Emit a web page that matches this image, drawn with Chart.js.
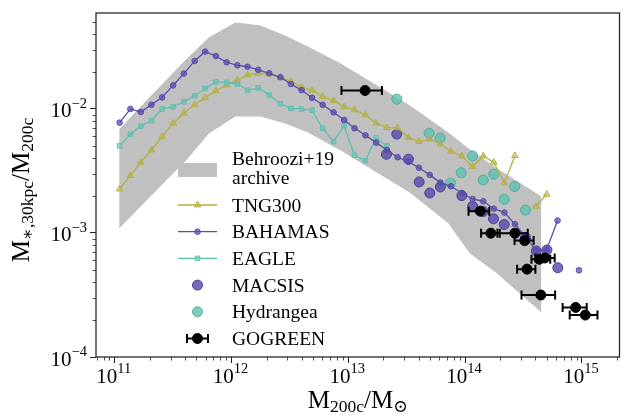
<!DOCTYPE html>
<html>
<head>
<meta charset="utf-8">
<script src="https://cdn.jsdelivr.net/npm/chart.js@4.4.1/dist/chart.umd.min.js"></script>
<style>
html, body { margin: 0; padding: 0; background: #fff; }
canvas { display: block; }
</style>
</head>
<body>
<canvas id="myChart" width="626" height="416"></canvas>
<script>
// halo mass bins of the simulation curves (Msun)
var simM = [1.10e11, 1.36e11, 1.67e11, 2.06e11, 2.54e11, 3.16e11, 3.90e11, 4.83e11, 5.94e11, 7.32e11,
    9.07e11, 1.12e12, 1.37e12, 1.69e12, 2.10e12, 2.62e12, 3.22e12, 3.97e12, 4.89e12, 6.03e12,
    7.47e12, 9.20e12, 1.13e13, 1.40e13, 1.73e13, 2.14e13, 2.64e13, 3.27e13, 4.02e13, 4.98e13,
    6.14e13, 7.56e13, 9.38e13, 1.16e14, 1.43e14, 1.76e14, 2.17e14, 2.67e14, 3.29e14, 4.05e14,
    5.00e14, 6.19e14];

var bahamasR = [7.76e-3, 1.00e-2, 9.46e-3, 1.08e-2, 1.24e-2, 1.55e-2, 1.93e-2, 2.44e-2, 2.90e-2, 2.67e-2,
    2.38e-2, 2.25e-2, 2.19e-2, 2.07e-2, 1.94e-2, 1.80e-2, 1.59e-2, 1.42e-2, 1.23e-2, 1.08e-2,
    9.40e-3, 8.15e-3, 6.99e-3, 6.13e-3, 5.35e-3, 4.67e-3, 4.08e-3, 3.76e-3, 3.36e-3, 2.94e-3,
    2.55e-3, 2.38e-3, 2.10e-3, 1.88e-3, 1.80e-3, 1.57e-3, 1.46e-3, 1.18e-3, 9.33e-4, 7.22e-4,
    7.36e-4, 1.26e-3];
var bahamasLoneM = [9.44e14];
var bahamasLoneR = [5.0e-4];

// TNG300 uses the first 41 bins, one empty bin (null)
var tngR = [2.26e-3, 2.90e-3, 3.72e-3, 4.67e-3, 5.98e-3, 7.67e-3, 9.23e-3, 1.08e-2, 1.23e-2, 1.40e-2,
    1.56e-2, 1.71e-2, 1.88e-2, 1.94e-2, 1.91e-2, 1.80e-2, 1.67e-2, 1.50e-2, 1.41e-2, 1.26e-2,
    1.17e-2, 1.04e-2, 9.82e-3, 8.95e-3, 7.67e-3, 7.06e-3, 7.06e-3, 5.87e-3, 5.45e-3, 5.70e-3,
    5.22e-3, 4.56e-3, 4.16e-3, 3.43e-3, 4.18e-3, 3.71e-3, 2.53e-3, 4.20e-3, null, 1.64e-3,
    2.05e-3];

// EAGLE uses the first 26 bins
var eagleR = [5.04e-3, 6.25e-3, 7.29e-3, 8.05e-3, 1.00e-2, 1.04e-2, 1.14e-2, 1.28e-2, 1.46e-2, 1.65e-2,
    1.64e-2, 1.59e-2, 1.42e-2, 1.48e-2, 1.30e-2, 1.10e-2, 1.01e-2, 1.00e-2, 9.76e-3, 6.99e-3,
    5.45e-3, 7.33e-3, 4.23e-3, 3.82e-3, 5.87e-3, 5.04e-3];

var macsisM = [2.12e13, 2.60e13, 3.27e13, 4.04e13, 4.98e13, 6.14e13, 9.38e13, 1.16e14, 1.43e14, 1.75e14,
    2.16e14, 3.29e14, 4.07e14, 5.02e14, 6.22e14];
var macsisR = [4.31e-3, 6.27e-3, 3.94e-3, 2.58e-3, 2.10e-3, 2.35e-3, 2.00e-3, 1.64e-3, 1.49e-3, 1.30e-3,
    1.17e-3, 9.20e-4, 7.16e-4, 7.30e-4, 5.24e-4];

var hydraM = [2.60e13, 4.92e13, 6.11e13, 7.50e13, 9.25e13, 1.16e14, 1.43e14, 1.76e14, 2.16e14, 2.66e14, 3.29e14];
var hydraR = [1.20e-2, 6.37e-3, 5.83e-3, 2.53e-3, 3.06e-3, 4.18e-3, 2.67e-3, 2.98e-3, 1.87e-3, 2.37e-3, 1.53e-3];

var gogreenM = [1.39e13, 1.35e14, 1.66e14, 2.67e14, 3.24e14, 4.32e14, 4.81e14, 3.39e14, 4.45e14, 8.85e14, 1.07e15];
var gogreenR = [1.41e-2, 1.50e-3, 9.96e-4, 9.96e-4, 8.68e-4, 6.14e-4, 6.29e-4, 5.11e-4, 3.16e-4, 2.51e-4, 2.18e-4];
var gogreenLo = [8.73e12, 1.07e14, 1.37e14, 1.89e14, 2.65e14, 3.70e14, 4.00e14, 2.79e14, 3.04e14, 6.84e14, 7.87e14];
var gogreenHi = [1.94e13, 1.61e14, 1.98e14, 3.44e14, 3.86e14, 5.36e14, 5.85e14, 4.00e14, 5.90e14, 1.10e15, 1.36e15];

// Behroozi+19 band
var bandM = [1.09e11, 1.98e11, 4.07e11, 6.38e11, 1.08e12, 1.76e12, 2.87e12, 4.50e12, 8.57e12, 1.87e13,
    3.35e13, 7.18e13, 1.10e14, 1.83e14, 4.50e14];
var bandHi = [6.77e-3, 1.23e-2, 2.48e-2, 3.74e-2, 4.94e-2, 4.67e-2, 3.88e-2, 3.16e-2, 2.31e-2, 1.48e-2,
    1.06e-2, 6.40e-3, 4.67e-3, 3.34e-3, 1.95e-3];
var bandLo = [1.10e-3, 1.95e-3, 3.88e-3, 6.40e-3, 8.78e-3, 8.78e-3, 7.71e-3, 6.53e-3, 4.67e-3, 2.99e-3,
    2.14e-3, 1.21e-3, 6.90e-4, 4.85e-4, 2.31e-4];

var xTicks = [1e11, 1e12, 1e13, 1e14, 1e15];
var yTicks = [1e-4, 1e-3, 1e-2];

var purple = 'rgb(88,76,172)';
var purpleFill = 'rgba(88,76,172,0.7)';
var olive = 'rgb(180,176,66)';
var teal = 'rgb(94,192,176)';
var grey = '#c0c0c0';
var serif = "'Liberation Serif', 'Times New Roman', 'DejaVu Serif', serif";

function pts(xs, ys) {
    return ys.map(function (y, i) { return { x: xs[i], y: y }; });
}

var datasets = [];
// GOGREEN on top
datasets.push({ label: 'GOGREEN', data: pts(gogreenM, gogreenR), pointRadius: 5,
    pointBackgroundColor: '#000', pointBorderColor: '#000', order: 0 });
gogreenM.forEach(function (m, i) {
    datasets.push({
        data: [{ x: gogreenLo[i], y: gogreenR[i] }, { x: gogreenHi[i], y: gogreenR[i] }],
        showLine: true, borderColor: '#000', borderWidth: 2,
        pointStyle: 'line', rotation: 90, pointRadius: 4.5, pointBorderWidth: 2,
        pointBorderColor: '#000', order: 1
    });
});
datasets.push({ label: 'BAHAMAS', data: pts(simM, bahamasR), showLine: true, borderColor: purple, borderWidth: 1.3,
    pointRadius: 2.8, pointBorderWidth: 1, pointBackgroundColor: purpleFill, pointBorderColor: purple, order: 2 });
datasets.push({ data: pts(bahamasLoneM, bahamasLoneR), pointRadius: 2.8, pointBorderWidth: 1,
    pointBackgroundColor: purpleFill, pointBorderColor: purple, order: 2 });
datasets.push({ label: 'EAGLE', data: pts(simM, eagleR), showLine: true, borderColor: teal, borderWidth: 1.3,
    pointStyle: 'rect', pointRadius: 3.2, pointBorderWidth: 1, pointBackgroundColor: 'rgba(94,192,176,0.5)', pointBorderColor: teal, order: 3 });
datasets.push({ label: 'TNG300', data: pts(simM, tngR), showLine: true, spanGaps: false, borderColor: olive, borderWidth: 1.3,
    pointStyle: 'triangle', pointRadius: 3.8, pointBorderWidth: 1, pointBackgroundColor: 'rgba(180,176,66,0.5)', pointBorderColor: olive, order: 4 });
datasets.push({ label: 'MACSIS', data: pts(macsisM, macsisR), pointRadius: 5, pointBorderWidth: 1,
    pointBackgroundColor: 'rgba(88,76,172,0.82)', pointBorderColor: 'rgb(76,64,158)', order: 5 });
datasets.push({ label: 'Hydrangea', data: pts(hydraM, hydraR), pointRadius: 5, pointBorderWidth: 1,
    pointBackgroundColor: 'rgba(94,192,176,0.8)', pointBorderColor: 'rgb(80,175,160)', order: 5 });
datasets.push({ label: 'Behroozi+19 archive', data: pts(bandM, bandHi), showLine: true, borderColor: grey, borderWidth: 1,
    pointRadius: 0, fill: '+1', backgroundColor: grey, order: 10 });
datasets.push({ data: pts(bandM, bandLo), showLine: true, borderColor: grey, borderWidth: 1,
    pointRadius: 0, fill: false, order: 10 });

function drawPieces(ctx, pieces, x, y, align) {
    var w = 0;
    pieces.forEach(function (p) {
        ctx.font = p[1] + 'px ' + serif;
        p.w = ctx.measureText(p[0]).width;
        w += p.w;
    });
    var cx = align === 'center' ? x - w / 2 : (align === 'right' ? x - w : x);
    pieces.forEach(function (p) {
        ctx.font = p[1] + 'px ' + serif;
        ctx.fillText(p[0], cx, y + (p[2] || 0));
        cx += p.w;
    });
}

// minor ticks, frame, tick labels, axis titles and legend
var decor = {
    id: 'decor',
    afterDraw: function (chart) {
        var ctx = chart.ctx, a = chart.chartArea, sx = chart.scales.x, sy = chart.scales.y;
        ctx.save();
        ctx.strokeStyle = '#222';
        ctx.lineWidth = 0.8;
        ctx.beginPath();
        var d, k, v, p;
        for (d = 10; d <= 15; d++) {
            for (k = 2; k <= 9; k++) {
                v = k * Math.pow(10, d);
                if (v < sx.min || v > sx.max) continue;
                p = Math.round(sx.getPixelForValue(v)) + 0.5;
                ctx.moveTo(p, a.bottom); ctx.lineTo(p, a.bottom + 3.5);
            }
        }
        for (d = -4; d <= -1; d++) {
            for (k = 2; k <= 9; k++) {
                v = k * Math.pow(10, d);
                if (v < sy.min || v > sy.max) continue;
                p = Math.round(sy.getPixelForValue(v)) + 0.5;
                ctx.moveTo(a.left, p); ctx.lineTo(a.left - 3.5, p);
            }
        }
        ctx.stroke();
        ctx.lineWidth = 1.25;
        ctx.strokeRect(a.left, a.top, a.right - a.left, a.bottom - a.top);

        ctx.fillStyle = '#000';
        ctx.textBaseline = 'alphabetic';
        xTicks.forEach(function (t) {
            var e = Math.round(Math.log10(t));
            drawPieces(ctx, [['10', 21, 0], [String(e), 14.5, -10]], sx.getPixelForValue(t) - 1, 383, 'center');
        });
        yTicks.forEach(function (t) {
            var e = Math.round(Math.log10(t));
            drawPieces(ctx, [['10', 21, 0], ['\u2212' + Math.abs(e), 14.5, -9.5]], 87, sy.getPixelForValue(t) + 8.5, 'right');
        });

        // x title
        drawPieces(ctx, [['M', 25, 0], ['200c', 17.5, 4], ['/', 25, 0], ['M', 25, 0], ['\u2299', 17.5, 4]],
            (a.left + a.right) / 2, 408, 'center');
        // y title
        ctx.save();
        ctx.translate(29, (a.top + a.bottom) / 2 + 5);
        ctx.rotate(-Math.PI / 2);
        drawPieces(ctx, [['M', 25, 0], ['\u2217,30kpc', 17.5, 4], ['/', 25, 0], ['M', 25, 0], ['200c', 17.5, 4]],
            0, 0, 'center');
        ctx.restore();

        // legend
        var hx0 = 178, hx1 = 217, hm = 197.5, tx = 232;
        ctx.fillStyle = grey;
        ctx.fillRect(hx0, 163, hx1 - hx0, 14);
        ctx.fillStyle = '#000';
        ctx.font = '19.5px ' + serif;
        ctx.fillText('Behroozi+19', tx, 165);
        ctx.fillText('archive', tx, 184);
        var rows = [
            ['TNG300', olive, 'triangle', 3.8, 'rgba(180,176,66,0.5)', true],
            ['BAHAMAS', purple, 'circle', 2.8, purpleFill, true],
            ['EAGLE', teal, 'rect', 3.2, 'rgba(94,192,176,0.5)', true],
            ['MACSIS', 'rgb(76,64,158)', 'circle', 5, 'rgba(88,76,172,0.82)', false],
            ['Hydrangea', 'rgb(80,175,160)', 'circle', 5, 'rgba(94,192,176,0.8)', false],
            ['GOGREEN', '#000', 'circle', 5, '#000', false]
        ];
        rows.forEach(function (r, i) {
            var y = 205 + i * 26.7;
            ctx.lineWidth = 1.3;
            ctx.strokeStyle = r[1];
            if (r[5]) {
                ctx.beginPath(); ctx.moveTo(hx0, y); ctx.lineTo(hx1, y); ctx.stroke();
            }
            if (r[0] === 'GOGREEN') {
                ctx.lineWidth = 2;
                ctx.beginPath();
                ctx.moveTo(187, y); ctx.lineTo(208, y);
                ctx.moveTo(187, y - 4.5); ctx.lineTo(187, y + 4.5);
                ctx.moveTo(208, y - 4.5); ctx.lineTo(208, y + 4.5);
                ctx.stroke();
            }
            ctx.fillStyle = r[4];
            ctx.lineWidth = 1;
            Chart.helpers.drawPoint(ctx, { pointStyle: r[2], radius: r[3], rotation: 0, borderWidth: 1 }, hm, y);
            ctx.fillStyle = '#000';
            ctx.font = '19.5px ' + serif;
            ctx.fillText(r[0], tx, y + 6.6);
        });
        ctx.restore();
    }
};

var ctx = document.getElementById('myChart').getContext('2d');
var myChart = new Chart(ctx, {
    type: 'scatter',
    data: { datasets: datasets },
    options: {
        responsive: false,
        animation: false,
        events: [],
        layout: { padding: { top: 13, right: 1, left: 0, bottom: 0 } },
        plugins: { legend: { display: false }, tooltip: { enabled: false } },
        scales: {
            x: {
                type: 'logarithmic',
                min: 6.9e10,
                max: 2.1e15,
                afterBuildTicks: function (s) { s.ticks = xTicks.map(function (v) { return { value: v, major: true }; }); },
                afterFit: function (s) { s.height = 59; },
                ticks: { display: false },
                border: { display: false },
                grid: { drawOnChartArea: false, drawTicks: true, tickLength: 6, tickWidth: 1, tickColor: '#222' }
            },
            y: {
                type: 'logarithmic',
                min: 1e-4,
                max: 0.0594,
                afterBuildTicks: function (s) { s.ticks = yTicks.map(function (v) { return { value: v, major: true }; }); },
                afterFit: function (s) { s.width = 96; },
                ticks: { display: false },
                border: { display: false },
                grid: { drawOnChartArea: false, drawTicks: true, tickLength: 6, tickWidth: 1, tickColor: '#222' }
            }
        }
    },
    plugins: [decor]
});
</script>
</body>
</html>
